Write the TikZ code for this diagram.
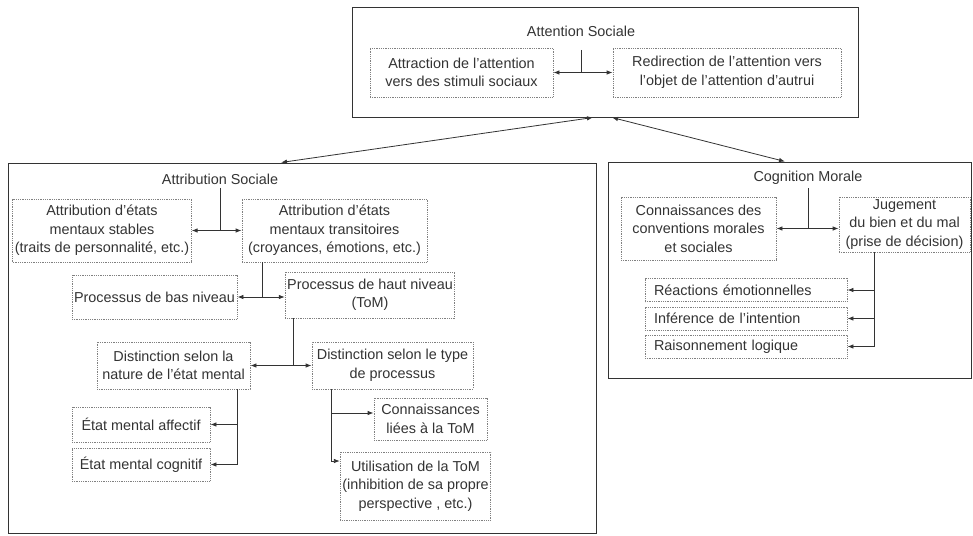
\documentclass[tikz,border=0pt]{standalone}
\usepackage{fontspec}
\setmainfont{Liberation Sans}
\usetikzlibrary{positioning}
\usetikzlibrary{arrows.meta}

\begin{document}
\begin{tikzpicture}[x=1pt, y=-1pt, >={Latex[length=6pt,width=4.5pt]},
    every node/.style={font=\fontsize{14.4}{18.5}\selectfont, text=black!80},
    frame/.style={draw=black!80, line width=1pt, inner sep=0pt},
    dbox/.style={draw=black!50, densely dotted, line width=0.8pt, align=center, inner sep=2pt},
    lbox/.style={dbox, text width=184pt, inner xsep=9pt, align=left, minimum height=23pt},
    link/.style={draw=black!80, line width=0.8pt}]

    \useasboundingbox (0,0) rectangle (973,535);

    % attention sociale
    \node[frame, minimum width=506pt, minimum height=109pt] (att) at (605,62.5) {};
    \node (attT) at (581,31) {Attention Sociale};
    \node[dbox, minimum width=183pt, minimum height=49pt] (attr) at (461.5,72.5) {Attraction de l'attention\\vers des stimuli sociaux};
    \node[dbox, minimum width=228pt, minimum height=49pt] (redir) at (727,72.5) {Redirection de l'attention vers\\l'objet de l'attention d'autrui};

    % attribution sociale
    \node[frame, minimum width=588pt, minimum height=370pt] (soc) at (302,348) {};
    \node (socT) at (220,179) {Attribution Sociale};
    \node[dbox, minimum width=176pt, minimum height=63pt] (stab) at (102,230.5) {Attribution d'états\\mentaux stables\\(traits de personnalité, etc.)};
    \node[dbox, minimum width=185pt, minimum height=63pt] (trans) at (334.5,230.5) {Attribution d'états\\mentaux transitoires\\(croyances, émotions, etc.)};
    \node[dbox, minimum width=165pt, minimum height=44pt] (bas) at (154.5,297) {Processus de bas niveau};
    \node[dbox, minimum width=166pt, minimum height=46pt] (haut) at (370,295) {Processus de haut niveau\\(ToM)};
    \node[dbox, minimum width=153pt, minimum height=47pt] (natr) at (173.5,365.5) {Distinction selon la\\nature de l'état mental};
    \node[dbox, minimum width=161pt, minimum height=47pt] (typ) at (392.5,365.5) {Distinction selon le type\\de processus};
    \node[dbox, minimum width=138pt, minimum height=35pt] (aff) at (141,424.5) {État mental affectif};
    \node[dbox, minimum width=138pt, minimum height=33pt] (cog) at (141,464.5) {État mental cognitif};
    \node[dbox, minimum width=113pt, minimum height=42pt] (conn) at (430.5,419) {Connaissances\\liées à la ToM};
    \node[dbox, minimum width=145pt, minimum height=68pt] (util) at (415.5,486) {Utilisation de la ToM\\(inhibition de sa propre\\perspective , etc.)};

    % cognition morale
    \node[frame, minimum width=363pt, minimum height=216pt] (mor) at (789.5,270) {};
    \node (morT) at (808,178) {Cognition Morale};
    \node[dbox, minimum width=155pt, minimum height=63pt] (know) at (698.5,228.5) {Connaissances des\\conventions morales\\et sociales};
    \node[dbox, minimum width=131pt, minimum height=55pt, inner ysep=1pt] (jug) at (904.5,224.5) {Jugement\\du bien et du mal\\(prise de décision)};
    \node[lbox] (reac) at (746,290) {Réactions émotionnelles};
    \node[lbox] (inf) at (746,318.5) {Inférence de l'intention};
    \node[lbox] (rais) at (746,346.5) {Raisonnement logique};

    % links
    \draw[link] ([yshift=-10pt]attT.south) -- (attT.south |- attr.east);
    \draw[link, <->] (attr) -- (redir);
    \draw[link, <->] ([xshift=-12pt]att.south) -- ([xshift=-21pt]soc.north);
    \draw[link, <->] ([xshift=7pt]att.south) -- ([xshift=-4.5pt]mor.north);

    \draw[link] (socT.south) -- (socT.south |- stab.east);
    \draw[link, <->] (stab) -- (trans);
    \coordinate (transJ) at ([xshift=21pt]trans.south west);
    \draw[link] (transJ) -- (transJ |- bas.east);
    \draw[link, <->] (bas.east) -- (bas.east -| haut.west);
    \coordinate (hautJ) at ([xshift=9pt]haut.south west);
    \draw[link] (hautJ) -- (hautJ |- natr.east);
    \draw[link, <->] (natr) -- (typ);
    \coordinate (natrJ) at ([xshift=-13pt]natr.south east);
    \draw[link, ->] (natrJ) |- (aff.east);
    \draw[link, ->] (natrJ) |- (cog.east);
    \coordinate (typJ) at ([xshift=20pt]typ.south west);
    \draw[link, ->] (typJ) |- ([yshift=6pt]conn.west);
    \draw[link, ->] (typJ) |- ([yshift=25pt]util.west);

    \draw[link] (morT.south) -- (morT.south |- know.east);
    \draw[link, <->] (know.east) -- (know.east -| jug.west);
    \coordinate (jugJ) at ([xshift=36pt]jug.south west);
    \foreach \n in {reac, inf, rais}
        \draw[link, ->] (jugJ) |- (\n.east);

\end{tikzpicture}
\end{document}
